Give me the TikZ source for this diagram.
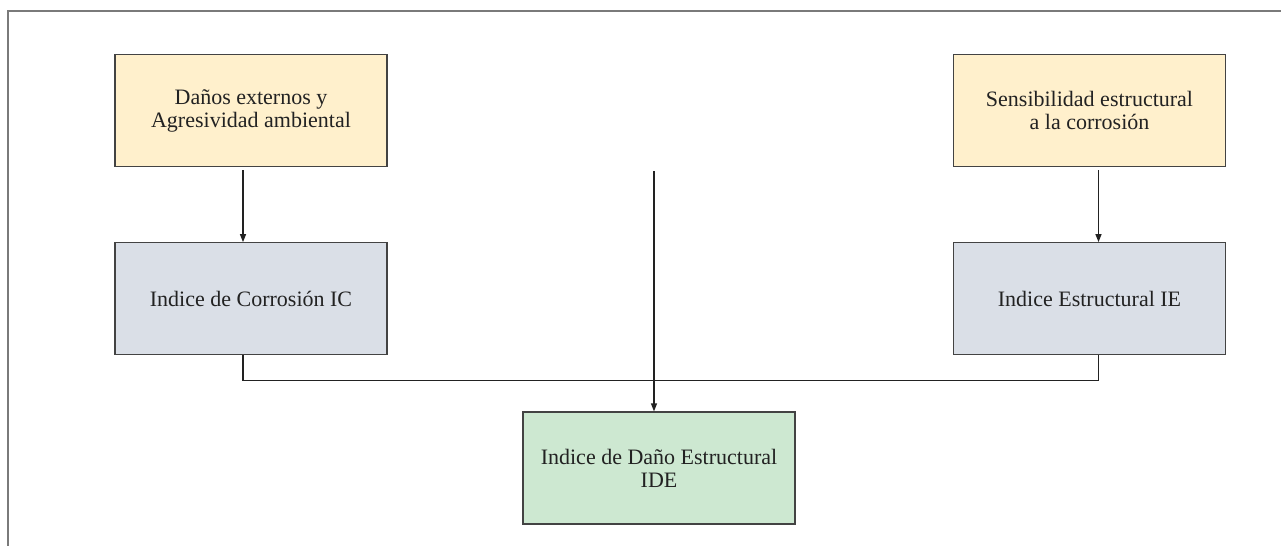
\documentclass[tikz,border=0pt]{standalone}
\usepackage{fontspec}
\setmainfont{Liberation Serif}
\usepackage{xcolor}
\usetikzlibrary{arrows.meta,positioning}
\definecolor{BoxYellow}{HTML}{FFF0CC}
\definecolor{BoxBlue}{HTML}{DADFE7}
\definecolor{BoxGreen}{HTML}{CDE8D1}
\definecolor{Ink}{HTML}{222222}
\definecolor{Frame}{HTML}{7A7A7A}
\tikzset{
  yellowbox/.style={draw=Ink!85, fill=BoxYellow, line width=0.6pt, align=center, minimum width=136pt, minimum height=56pt, inner sep=2pt},
  bluebox/.style={draw=Ink!85, fill=BoxBlue, line width=0.6pt, align=center, minimum width=136pt, minimum height=56pt, inner sep=2pt},
  greenbox/.style={draw=Ink!85, fill=BoxGreen, line width=0.6pt, align=center, minimum width=136pt, minimum height=56pt, inner sep=2pt},
  arrow/.style={-{Triangle[length=4pt,width=3pt]}, line width=0.6pt, draw=Ink},
  link/.style={line width=0.6pt, draw=Ink}
}

\begin{document}
\begin{tikzpicture}[x=0.5pt, y=-0.5pt, font=\fontsize{11}{11.5}\selectfont, text=Ink]
    \useasboundingbox (0,0) rectangle (1281,546);
    \draw[Frame, line width=0.7pt] (8,546) -- (8,11) -- (1281,11);

    \node[yellowbox] (dano) at (251,110.5) {Daños externos y\\Agresividad ambiental};
    \node[yellowbox] (sens) at (1089.5,110.5) {Sensibilidad estructural\\a la corrosión};
    \node[bluebox, below=37.5pt of dano] (ic) {Indice de Corrosión IC};
    \node[bluebox, below=37.5pt of sens] (ie) {Indice Estructural IE};
    \node[greenbox] (ide) at (659,468) {Indice de Daño Estructural\\IDE};
    \coordinate (top) at (654,171);

    \draw[arrow, shorten <=1.5pt] ([xshift=-4pt]dano.south) -- ([xshift=-4pt]ic.north);
    \draw[arrow, shorten <=1.5pt] ([xshift=4.5pt]sens.south) -- ([xshift=4.5pt]ie.north);
    \draw[link] ([xshift=-4pt]ic.south) -- ++(0,25) -| ([xshift=4.5pt]ie.south);
    \draw[arrow] (top) -- (top |- ide.north);
  \end{tikzpicture}
\end{document}
